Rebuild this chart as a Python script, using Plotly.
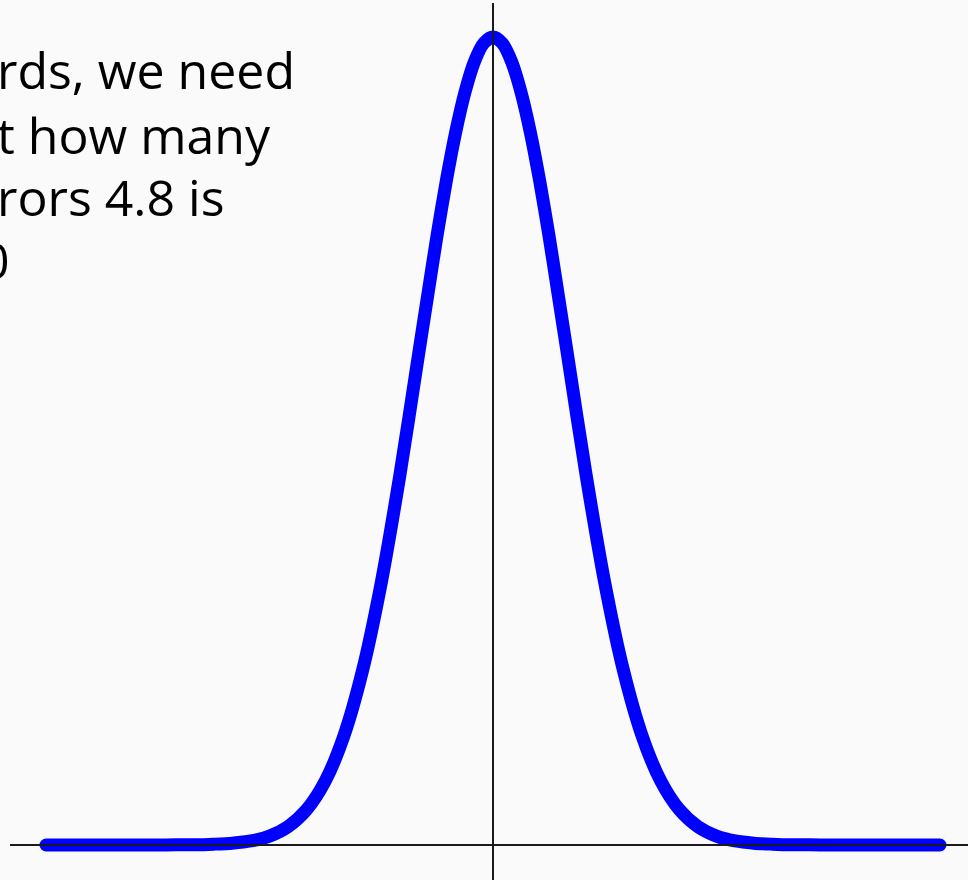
import plotly.graph_objects as go

# Standard errors from the mean (x) and curve height (y)
x_se = [-6.0, -5.5, -5.0, -4.5, -4.25, -4.0, -3.75, -3.5, -3.25, -3.0, -2.75, -2.5, -2.25,
        -2.0, -1.75, -1.5, -1.25, -1.0, -0.875, -0.75, -0.625, -0.5, -0.375, -0.25, -0.125, 0.0,
        0.125, 0.25, 0.375, 0.5, 0.625, 0.75, 0.875, 1.0, 1.25, 1.5, 1.75, 2.0, 2.25, 2.5, 2.75,
        3.0, 3.25, 3.5, 3.75, 4.0, 4.25, 4.5, 5.0, 5.5, 6.0]
y_density = [0.0, 0.0, 0.0, 0.0, 0.0001, 0.0001, 0.0004, 0.0009, 0.0020, 0.0044, 0.0091, 0.0175, 0.0317,
             0.0540, 0.0863, 0.1295, 0.1826, 0.2420, 0.2717, 0.3011, 0.3282, 0.3521, 0.3718, 0.3867, 0.3958, 0.3989,
             0.3958, 0.3867, 0.3718, 0.3521, 0.3282, 0.3011, 0.2717, 0.2420, 0.1826, 0.1295, 0.0863, 0.0540, 0.0317, 0.0175, 0.0091,
             0.0044, 0.0020, 0.0009, 0.0004, 0.0001, 0.0001, 0.0, 0.0, 0.0, 0.0]

text_lines = ["rds, we need", "t how many", "rors 4.8 is", "0"]

W, H = 968, 880
x_px_per_unit = 74.5
x_zero_px = 493
base_px = 845
peak_px = 37
y_per_px = 0.3989 / (base_px - peak_px)

x_range = [-x_zero_px / x_px_per_unit, (W - x_zero_px) / x_px_per_unit]
y_range = [-(H - base_px) * y_per_px, base_px * y_per_px]

def px_x(p):
    return (p - x_zero_px) / x_px_per_unit

def px_y(p):
    return (base_px - p) * y_per_px

fig = go.Figure()
fig.add_trace(go.Scatter(
    x=x_se, y=y_density, mode="lines",
    line=dict(color="#0000ff", width=13, shape="spline", smoothing=0.8),
    hoverinfo="skip", showlegend=False,
))

# axes lines drawn on top of the curve
fig.add_shape(type="line", xref="x", yref="y", x0=px_x(10), x1=px_x(968), y0=0, y1=0,
              line=dict(color="#1a1a1a", width=2), layer="above")
fig.add_shape(type="line", xref="x", yref="y", x0=0, x1=0, y0=px_y(3), y1=px_y(880),
              line=dict(color="#1a1a1a", width=2), layer="above")

right_edges = [296, 272, 226, 11]
baselines = [93, 158, 220, 283]
for txt, rx, by in zip(text_lines, right_edges, baselines):
    fig.add_annotation(
        text=txt, xref="paper", yref="paper",
        x=rx / W, y=1 - (by + 12) / H, xanchor="right", yanchor="bottom",
        showarrow=False, align="left",
        font=dict(family="Open Sans", size=50, color="#000000"),
        borderpad=0,
    )

fig.update_layout(
    width=W, height=H,
    margin=dict(l=0, r=0, t=0, b=0),
    paper_bgcolor="#fafafa", plot_bgcolor="#fafafa",
    xaxis=dict(range=x_range, visible=False, fixedrange=True),
    yaxis=dict(range=y_range, visible=False, fixedrange=True),
    showlegend=False,
)

fig.write_html(
    "out.html",
    config={"displayModeBar": False},
    post_script="document.body.style.margin='0';document.body.style.background='#fafafa';"
                "document.querySelectorAll('.scatterlayer path.js-line').forEach(function(p){p.style.strokeLinecap='round';p.style.strokeLinejoin='round';});",
)
